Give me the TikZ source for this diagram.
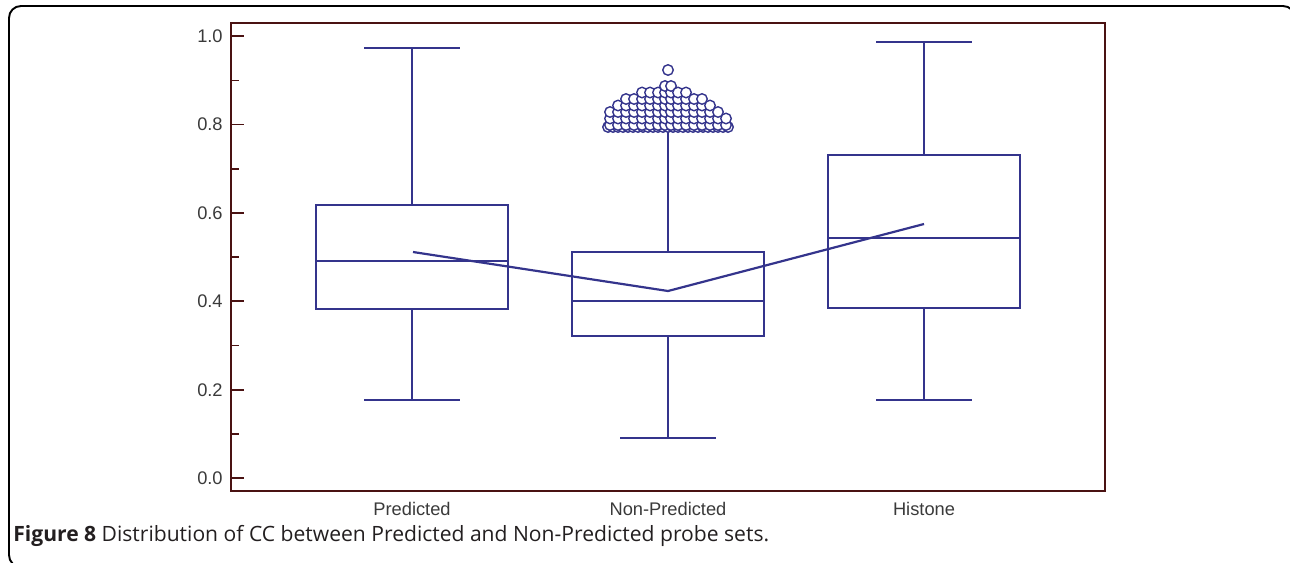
\documentclass[tikz,border=0pt]{standalone}
\usepackage{fontspec}
\setmainfont{Open Sans}
\newfontfamily\plotfont{Liberation Sans}
\usetikzlibrary{positioning}
\definecolor{Navy}{HTML}{34348C}
\definecolor{FrameInk}{HTML}{4A1212}
\definecolor{TickInk}{HTML}{3A3A3A}
\definecolor{CapInk}{HTML}{231F20}

\begin{document}
\begin{tikzpicture}[x=0.02cm,y=-0.02cm,
    boxline/.style={draw=Navy,line width=1.25pt},
    axisline/.style={draw=FrameInk,line width=1.5pt},
    ticklabel/.style={font=\plotfont\fontsize{10.4}{12}\selectfont,text=TickInk,anchor=east,inner sep=0pt},
    catlabel/.style={font=\plotfont\fontsize{10.4}{12}\selectfont,text=TickInk,inner sep=0pt},
    outlier/.style={draw=Navy,line width=0.8pt,fill=white}]
    \useasboundingbox (0,0) rectangle (1290,562);
    % outer frame, cut at the right and bottom
    \begin{scope}
      \clip (0,0) rectangle (1290,562);
      \draw[line width=1.1pt,rounded corners=6.8pt] (9,6) rectangle (1295,567);
    \end{scope}
    % plot frame and y ticks
    \draw[axisline] (231,23) rectangle (1105,491);
    \foreach \yy/\lab [count=\i] in {478/0.0,389.7/0.2,301.3/0.4,213/0.6,124.6/0.8,36.3/1.0} {
      \draw[FrameInk,line width=1pt] (231,\yy) -- (244,\yy);
      \node[ticklabel] (tick\i) at (223,\yy) {\lab};
    }
    \foreach \yy in {433.8,345.5,257.2,168.8,80.5}
      \draw[FrameInk,line width=1pt] (231,\yy) -- (239,\yy);
    % boxes: centre / q3 / median / q1 / upper whisker / lower whisker
    \foreach \cx/\qt/\md/\qb/\wt/\wb in {412/205/261/309/48/400, 668/252/301/336/125/438, 924/155/238/308/42/400} {
      \draw[boxline] (\cx-96,\qt) rectangle (\cx+96,\qb);
      \draw[boxline] (\cx-96,\md) -- (\cx+96,\md);
      \draw[boxline] (\cx,\qt) -- (\cx,\wt);
      \draw[boxline] (\cx,\qb) -- (\cx,\wb);
      \draw[boxline] (\cx-48,\wt) -- (\cx+48,\wt);
      \draw[boxline] (\cx-48,\wb) -- (\cx+48,\wb);
    }
    % outliers of Non-Predicted
    \foreach \dx in {-60,-55,...,60}
      \draw[outlier] (668+\dx,127) circle[radius=0.105cm];
    \foreach \dx/\n in {-58/2,-50/3,-42/4,-34/4,-26/5,-18/5,-10/5,-3/6,3/6,10/5,18/5,26/4,34/4,42/3,50/2,58/1} {
      \foreach \k in {0,...,\n}
        \draw[outlier] (668+\dx,125-6.5*\k) circle[radius=0.105cm];
    }
    \draw[outlier] (668,70) circle[radius=0.105cm];
    % means
    \coordinate (meanP) at (413,252);
    \coordinate (meanN) at (668,291);
    \coordinate (meanH) at (924,224);
    \draw[boxline] (meanP) -- (meanN) -- (meanH);
    % category labels
    \node[catlabel] (predicted) at (412,509) {Predicted};
    \node[catlabel] (nonpredicted) at (668,509) {Non-Predicted};
    \node[catlabel] (histone) at (924,509) {Histone};
    % caption
    \node[anchor=west,inner sep=0pt,text=CapInk,font=\fontsize{12}{14}\selectfont] (caption) at (13,536)
      {\textbf{Figure 8} Distribution of CC between Predicted and Non-Predicted probe sets.};
  \end{tikzpicture}
\end{document}
